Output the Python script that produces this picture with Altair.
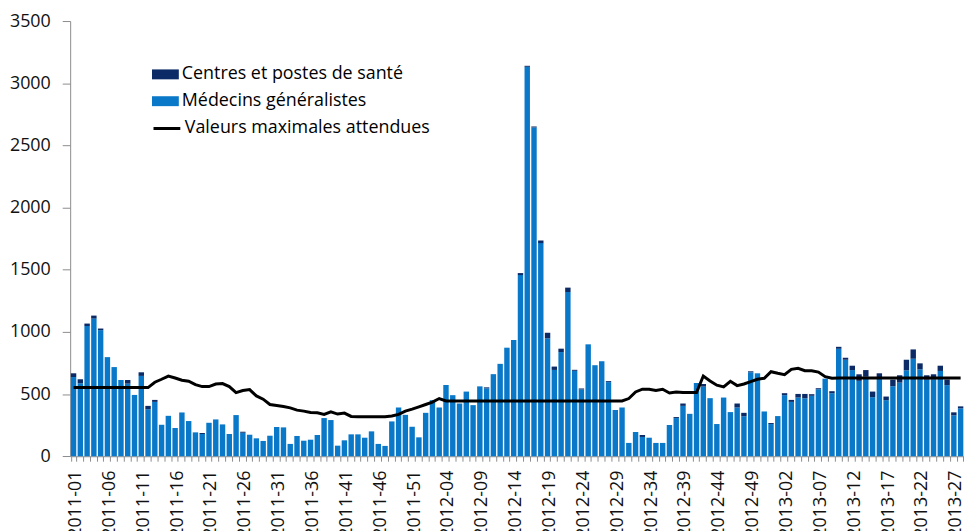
import altair as alt
import pandas as pd

# Category labels (ISO weeks)
years = [2011, 2012, 2013]
weeks_per_year = [52, 52, 28]
weeks = [f"{y}-{w:02d}" for y, n in zip(years, weeks_per_year) for w in range(1, n + 1)]

# Total consultations per week (stack top)
total = [
    667, 619, 1067, 1131, 1027, 797, 717, 613, 613, 493,
    675, 405, 453, 253, 325, 227, 352, 283, 192, 187,
    269, 296, 256, 179, 331, 197, 173, 144, 123, 165,
    235, 232, 99, 163, 125, 133, 171, 307, 291, 85,
    128, 176, 176, 149, 200, 99, 83, 280, 392, 333,
    237, 152, 349, 451, 392, 573, 491, 424, 520, 411,
    562, 554, 660, 743, 873, 935, 1473, 3140, 2652, 1735,
    993, 721, 865, 1356, 695, 545, 900, 732, 764, 604,
    372, 392, 107, 195, 171, 149, 107, 107, 251, 315,
    424, 341, 589, 581, 467, 259, 472, 355, 424, 349,
    683, 667, 360, 267, 323, 507, 453, 501, 501, 499,
    547, 624, 523, 880, 792, 728, 659, 693, 520, 667,
    480, 616, 651, 776, 859, 747, 651, 659, 728, 617,
    353, 401,
]

# Centres et postes de santé (dark top part)
centres = [
    30, 32, 20, 24, 13, 0, 0, 0, 29, 0,
    29, 27, 16, 0, 0, 0, 0, 0, 0, 8,
    0, 0, 0, 0, 0, 8, 0, 0, 0, 0,
    0, 0, 0, 0, 0, 0, 0, 0, 0, 0,
    0, 0, 0, 0, 0, 0, 0, 0, 0, 0,
    0, 0, 0, 0, 0, 0, 0, 0, 0, 0,
    0, 8, 0, 0, 0, 0, 16, 8, 8, 21,
    45, 27, 27, 35, 8, 8, 0, 0, 0, 8,
    0, 0, 0, 0, 16, 0, 0, 0, 0, 8,
    19, 0, 0, 21, 0, 0, 0, 0, 32, 27,
    8, 0, 0, 8, 0, 16, 16, 29, 35, 13,
    8, 0, 16, 16, 16, 35, 53, 53, 45, 30,
    29, 53, 59, 85, 75, 48, 35, 40, 42, 45,
    24, 16,
]

# Valeurs maximales attendues
seuil = [
    552, 552, 552, 552, 552, 552, 552, 552, 552, 552,
    552, 552, 595, 619, 645, 629, 611, 603, 576, 560,
    560, 581, 584, 560, 512, 528, 536, 485, 459, 416,
    408, 400, 389, 371, 363, 352, 349, 336, 357, 339,
    347, 320, 317, 317, 317, 317, 317, 323, 336, 363,
    379, 397, 416, 435, 464, 445, 445, 445, 445, 445,
    445, 445, 445, 445, 445, 445, 445, 445, 445, 445,
    445, 445, 445, 445, 445, 445, 445, 445, 445, 445,
    445, 445, 464, 517, 539, 539, 528, 539, 509, 517,
    512, 512, 512, 645, 605, 571, 557, 603, 568, 581,
    600, 619, 627, 680, 667, 656, 699, 707, 688, 688,
    677, 640, 627, 629, 629, 629, 629, 629, 629, 629,
    629, 629, 629, 629, 629, 629, 629, 629, 629, 629,
    629, 629,
]

y_ticks = [0, 500, 1000, 1500, 2000, 2500, 3000, 3500]

S1 = "Centres et postes de santé"
S2 = "Médecins généralistes"
S3 = "Valeurs maximales attendues"
FONT = "Open Sans"
FS = 18
GREY = "#8c8c8c"

medecins = [t - c for t, c in zip(total, centres)]

df_bars = pd.DataFrame(
    {"semaine": weeks, "valeur": medecins, "serie": S2, "ordre": 0}
)
df_bars = pd.concat(
    [df_bars, pd.DataFrame({"semaine": weeks, "valeur": centres, "serie": S1, "ordre": 1})],
    ignore_index=True,
)
df_line = pd.DataFrame({"semaine": weeks, "seuil": seuil, "serie": S3})

label_expr = (
    "((toNumber(substring(datum.value,0,4))-2011)*52 + "
    "toNumber(substring(datum.value,5,7)) - 1) % 5 == 0 ? datum.value : ''"
)

x_enc = alt.X(
    "semaine:N",
    sort=weeks,
    scale=alt.Scale(paddingInner=0.2, paddingOuter=0.1),
    axis=alt.Axis(
        title=None,
        labelAngle=270,
        labelExpr=label_expr,
        labelOverlap=False,
        tickBand="extent",
        tickSize=5,
        tickColor=GREY,
        domainColor=GREY,
        labelFont=FONT,
        labelFontSize=FS,
        labelColor="#111111",
        labelPadding=9,
        labelOffset=2,
    ),
)

bars = alt.Chart(df_bars).mark_bar().encode(
    x=x_enc,
    y=alt.Y(
        "valeur:Q",
        stack="zero",
        scale=alt.Scale(domain=[0, 3500], nice=False),
        axis=alt.Axis(
            title=None,
            values=y_ticks,
            format="d",
            grid=False,
            tickSize=8,
            tickColor=GREY,
            domainColor=GREY,
            labelPadding=12,
            labelFont=FONT,
            labelFontSize=FS,
            labelColor="#111111",
        ),
    ),
    color=alt.Color(
        "serie:N",
        scale=alt.Scale(domain=[S1, S2], range=["#0B2A66", "#0A78C8"]),
        legend=alt.Legend(
            title=None,
            orient="none",
            direction="vertical",
            legendX=82.4,
            legendY=40.2,
            symbolType="M-1,-0.37H1V0.37H-1Z",
            symbolSize=729,
            symbolStrokeWidth=0,
            symbolOpacity=1,
            labelFont=FONT,
            labelFontSize=FS,
            labelColor="#000000",
            labelOffset=3,
            labelLimit=400,
            rowPadding=4,
            padding=0,
        ),
    ),
    order=alt.Order("ordre:Q", sort="ascending"),
)

line = alt.Chart(df_line).mark_line(strokeWidth=3).encode(
    x=alt.X("semaine:N", sort=weeks),
    y=alt.Y("seuil:Q", title=None),
    stroke=alt.Stroke(
        "serie:N",
        scale=alt.Scale(domain=[S3], range=["#000000"]),
        legend=alt.Legend(
            title=None,
            orient="none",
            direction="vertical",
            legendX=82.4,
            legendY=93.2,
            symbolType="stroke",
            symbolSize=729,
            symbolStrokeWidth=3,
            labelFont=FONT,
            labelFontSize=FS,
            labelColor="#000000",
            labelOffset=3,
            labelLimit=400,
            rowPadding=0,
            padding=0,
        ),
    ),
)

chart = (
    alt.layer(bars, line)
    .properties(
        width=900,
        height=438.2,
        autosize=alt.AutoSizeParams(type="none"),
        padding={"left": 62.6, "top": 11.3, "right": 0, "bottom": 80},
    )
    .configure_view(stroke=None)
)

chart.save("out.html", embed_options={"renderer": "svg", "actions": False})
